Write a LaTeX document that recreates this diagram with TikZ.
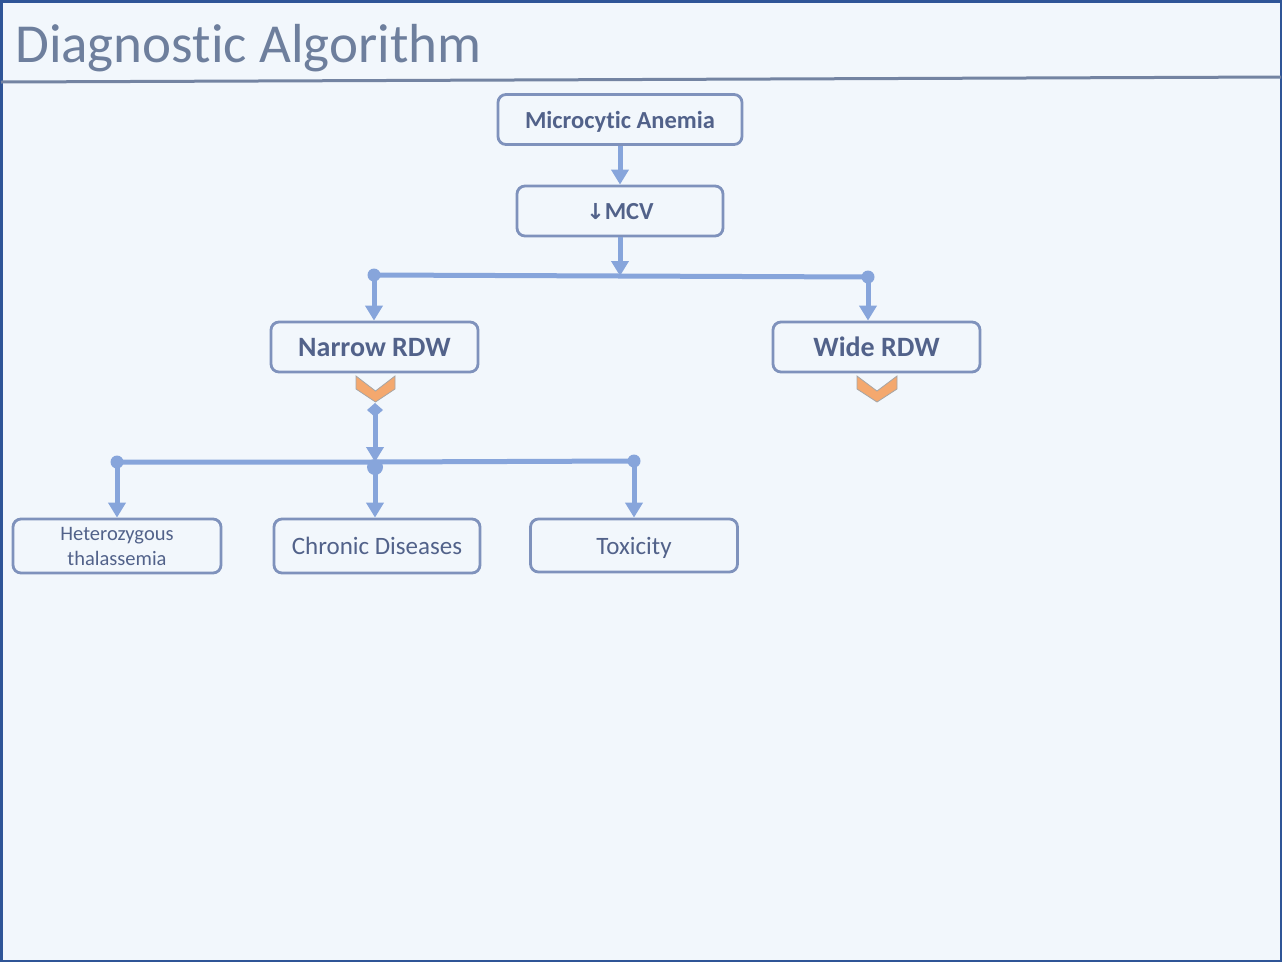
\documentclass[tikz,border=0pt]{standalone}
\usepackage{fontspec}
\setmainfont{Carlito}[Ligatures=NoCommon]
\newfontfamily\symfont{DejaVu Sans}
\usetikzlibrary{arrows.meta}
\definecolor{bgc}{HTML}{F2F7FC}
\definecolor{framec}{HTML}{2F5597}
\definecolor{titlec}{HTML}{6E7F9D}
\definecolor{tlinec}{HTML}{7484A2}
\definecolor{boxc}{HTML}{7F92BC}
\definecolor{txtc}{HTML}{52628A}
\definecolor{linkc}{HTML}{87A5DB}
\definecolor{chevc}{HTML}{F4A86E}
\definecolor{chevb}{HTML}{A6A6A6}
\tikzset{
  box/.style={draw=boxc, line width=2.8pt, rounded corners=8pt, fill=bgc, minimum width=#1, minimum height=50pt, inner sep=0pt, text=txtc, align=center},
  box/.default=206pt,
  link/.style={draw=linkc, line width=5pt, -{Triangle[width=17pt,length=15pt]}},
  bar/.style={draw=linkc, line width=5pt},
  dot/.style={fill=linkc, circle, inner sep=0pt, minimum size=#1},
  dot/.default=13pt,
  chev/.style={fill=chevc, draw=chevb, line width=0.8pt},
}
\begin{document}
\begin{tikzpicture}[x=1pt,y=-1pt]
\useasboundingbox (0,0) rectangle (1282,962);
\fill[bgc] (0,0) rectangle (1282,962);
\draw[framec, line width=2.5pt] (1.25,1.25) rectangle (1280.75,960.75);
\node[anchor=base west, text=titlec, font=\fontsize{55}{62}\selectfont, inner sep=0pt] (title) at (15,62) {Diagnostic Algorithm};
\draw[tlinec, line width=3pt] (1,82) -- (1281,77);

\node[box=244pt, text depth=0pt, font=\fontsize{24.5}{28}\selectfont\bfseries] (ma) at (620,119.5) {Microcytic Anemia};
\node[box=206pt, text depth=0pt, font=\fontsize{24.5}{28}\selectfont\bfseries] (mcv) at (620,211) {{\symfont\fontsize{22}{26}\selectfont ↓}MCV};
\node[box=207pt, text depth=0pt, font=\fontsize{28}{32}\selectfont\bfseries] (nrdw) at (374.5,347) {Narrow RDW};
\node[box=207pt, text depth=0pt, font=\fontsize{28}{32}\selectfont\bfseries] (wrdw) at (876.5,347) {Wide RDW};
\node[box=208pt, minimum height=54pt, font=\fontsize{20.5}{25}\selectfont] (het) at (117,546) {Heterozygous\\thalassemia};
\node[box=206pt, text depth=0pt, minimum height=54pt, font=\fontsize{25}{28}\selectfont] (chr) at (377,546) {Chronic Diseases};
\node[box=207pt, text depth=0pt, minimum height=53pt, font=\fontsize{25}{28}\selectfont] (tox) at (634,545.5) {Toxicity};

% level 1
\draw[link] (ma.south) -- (mcv.north);
\coordinate (j1) at (620,276);
\coordinate (jl) at (374,275);
\coordinate (jr) at (868,277);
\draw[link] (mcv.south) -- (j1);
\draw[bar] (jl) -- (j1) -- (jr);
\node[dot] (dl) at (jl) {};
\node[dot] (dr) at (jr) {};
\draw[link] (dl.center) -- (nrdw.north -| dl);
\draw[link] (dr.center) -- (wrdw.north -| dr);

% chevrons
\draw[chev] (356,376) -- (375.5,391) -- (395,376) -- (395,389) -- (375.5,402) -- (356,389) -- cycle;
\draw[chev] (857,376) -- (877,391) -- (897,376) -- (897,389) -- (877,402) -- (857,389) -- cycle;

% level 2
\coordinate (k0) at (375,410);
\coordinate (kl) at (117,462);
\coordinate (kc) at (375,462);
\coordinate (kr) at (634,461);
\fill[linkc] (367,410) -- (375,403) -- (383,410) -- (375,417) -- cycle;
\draw[link] (k0) -- (kc);
\draw[bar] (kl) -- (kc) -- (kr);
\node[dot] (el) at (kl) {};
\node[dot=16pt] (ec) at (375,467) {};
\node[dot] (er) at (kr) {};
\draw[link] (el.center) -- (het.north -| el);
\draw[link] (ec.center) -- (chr.north -| ec);
\draw[link] (er.center) -- (tox.north -| er);
\end{tikzpicture}
\end{document}
